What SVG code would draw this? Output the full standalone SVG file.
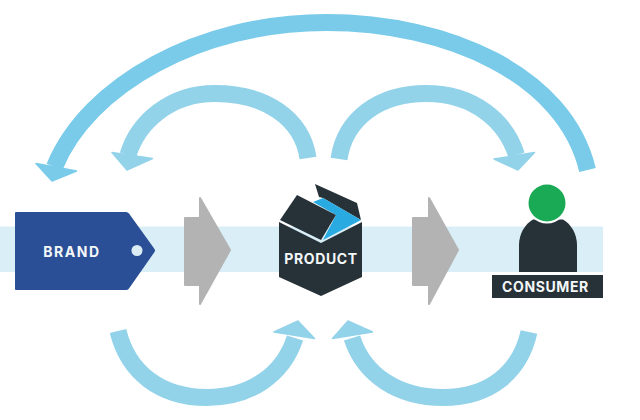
<svg xmlns="http://www.w3.org/2000/svg" width="640" height="420" viewBox="0 0 640 420">
  <style>
    .label { font-family: "Inter", "Liberation Sans", sans-serif; font-weight: 700; font-size: 14px; fill: #f4f7f8; text-anchor: middle; letter-spacing: .6px; }
    .dark { fill: #263238; }
    .flow { fill: #b3b3b3; stroke: #b3b3b3; stroke-width: 2; stroke-linejoin: round; }
    .arc { fill: none; stroke-width: 17; }
    .head { stroke-width: 1.5; stroke-linejoin: round; }
    .wide .arc { stroke: #79cbe9; }
    .wide .head { fill: #79cbe9; stroke: #79cbe9; }
    .soft .arc { stroke: #93d3ea; }
    .soft .head { fill: #93d3ea; stroke: #93d3ea; }
  </style>

  <rect x="0" y="226.500" width="603" height="45.500" fill="#d9eef7"/>

  <g id="connectors">
    <g class="wide">
      <path class="arc" d="M587.500 170 C565 75 448 22.500 326 22.500 C200 22.500 88 85 54.500 167"/>
      <polygon class="head" points="52,181 36,163.500 76.500,171"/>
    </g>
    <g class="soft">
      <path class="arc" d="M308 158 C302 118 265 93.500 215 93.500 C170 93.500 138 122 128 155"/>
      <polygon class="head" points="127,170 112,152.500 152.500,158.500"/>
      <path class="arc" d="M339 159 C345 118 380 93.500 426 93.500 C475 93.500 506 122 516.500 155"/>
      <polygon class="head" points="518,170 534.500,152.500 494,159"/>
      <path class="arc" d="M118 331 C128 372 160 397.500 207 397.500 C250 397.500 283 375 295 338"/>
      <polygon class="head" points="298,321 314.500,338.500 274,332"/>
      <path class="arc" d="M529 332 C520 372 490 397.500 443 397.500 C398 397.500 364 375 352 338"/>
      <polygon class="head" points="348,321 332.500,338.500 372.500,332"/>
    </g>
    <polygon class="flow" points="185,218 200,218 200,198 230,250 200,304 200,285 185,285"/>
    <polygon class="flow" points="413,218 429,218 429,198 458,250 429,304 429,285 413,285"/>
  </g>

  <g id="brand">
    <path d="M16 212 H126 Q128 212 129 213.500 L154.500 249 Q155.500 250.500 154.500 252 L129 288.500 Q128 290 126 290 H16 Q15 290 15 289 V213 Q15 212 16 212 Z" fill="#2b4f96"/>
    <circle cx="137" cy="250.500" r="5.500" fill="#dcecf5"/>
    <text class="label" x="72" y="256.500" style="letter-spacing:1.6px">BRAND</text>
  </g>

  <g id="product">
    <polygon points="315,184 357,203 361,220 323,198 319,197" class="dark"/>
    <polygon points="313,202 323,198 361,220 323,240 336,215" fill="#29abe2"/>
    <polygon points="280,220 297,195 336,215 321,240" class="dark"/>
    <polygon points="279,222 321,243 362,222 362,277 321,296 279,277" class="dark"/>
    <text class="label" x="321" y="264">PRODUCT</text>
  </g>

  <g id="consumer">
    <path d="M519 272 V245 C519 234 525 224 533 219.500 H563 C571 224 577 234 577 245 V272 Z" class="dark"/>
    <circle cx="547" cy="203" r="18.500" fill="#1aaa55" stroke="#fff" stroke-width="4" paint-order="stroke"/>
    <rect x="492" y="275" width="111" height="23" class="dark"/>
    <text class="label" x="545.500" y="292">CONSUMER</text>
  </g>
</svg>
